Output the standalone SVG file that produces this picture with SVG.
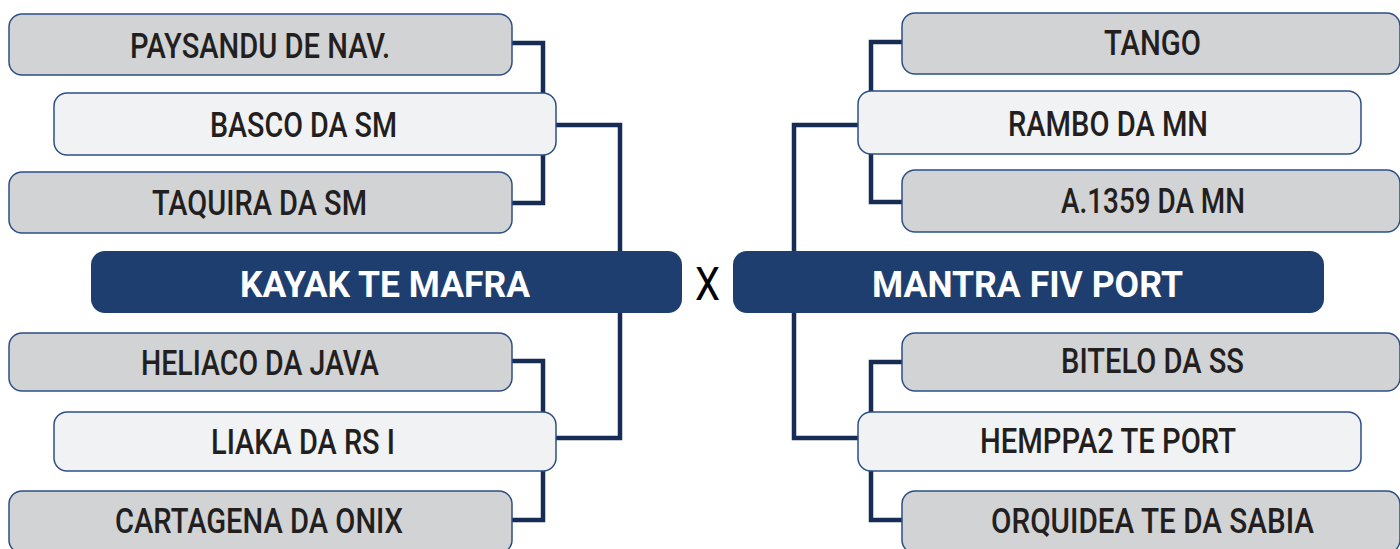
<svg xmlns="http://www.w3.org/2000/svg" width="1400" height="549" viewBox="0 0 1400 549">
<style>
.bg{fill:#ffffff}
.grey{fill:#d1d3d4;stroke:#2c4f86;stroke-width:1.5}
.light{fill:#f1f2f4;stroke:#2c4f86;stroke-width:1.5}
.head{fill:#1f3e70}
.conn{fill:none;stroke:#172c55;stroke-width:4.5;stroke-linejoin:miter}
.lbl{font-family:Roboto,"Liberation Sans",sans-serif;font-weight:500;font-size:35px;fill:#231f20}
.hl{font-family:Roboto,"Liberation Sans",sans-serif;font-weight:700;font-size:37px;fill:#ffffff}
.vs{font-family:Roboto,"Liberation Sans",sans-serif;font-weight:400;font-size:46px;fill:#000000}
</style>
<rect class="bg" x="0" y="0" width="1400" height="549"/>
<g id="connectors">
<path class="conn" d="M512,43 H543 V203 H512"/>
<path class="conn" d="M512,361 H543 V520 H512"/>
<path class="conn" d="M556,125 H620 V438 H556"/>
<path class="conn" d="M902,42 H871 V202 H902"/>
<path class="conn" d="M902,362 H871 V520 H902"/>
<path class="conn" d="M858,125 H794 V438 H858"/>
</g>
<g id="paysandu"><rect class="grey" x="9" y="14" width="503" height="61" rx="13"/><text class="lbl" x="130" y="58" textLength="260" lengthAdjust="spacingAndGlyphs">PAYSANDU DE NAV.</text></g>
<g id="basco"><rect class="light" x="54" y="93" width="502" height="62" rx="13"/><text class="lbl" x="210" y="137" textLength="187" lengthAdjust="spacingAndGlyphs">BASCO DA SM</text></g>
<g id="taquira"><rect class="grey" x="9" y="172" width="503" height="61" rx="13"/><text class="lbl" x="152" y="215" textLength="215" lengthAdjust="spacingAndGlyphs">TAQUIRA DA SM</text></g>
<g id="kayak"><rect class="head" x="91" y="251" width="591" height="62" rx="14"/><text class="hl" x="240" y="297" textLength="290" lengthAdjust="spacingAndGlyphs">KAYAK TE MAFRA</text></g>
<g id="heliaco"><rect class="grey" x="9" y="333" width="503" height="58" rx="13"/><text class="lbl" x="141" y="375" textLength="238" lengthAdjust="spacingAndGlyphs">HELIACO DA JAVA</text></g>
<g id="liaka"><rect class="light" x="54" y="412" width="502" height="59" rx="13"/><text class="lbl" x="211" y="454" textLength="184" lengthAdjust="spacingAndGlyphs">LIAKA DA RS I</text></g>
<g id="cartagena"><rect class="grey" x="9" y="491" width="503" height="62" rx="13"/><text class="lbl" x="115" y="533" textLength="288" lengthAdjust="spacingAndGlyphs">CARTAGENA DA ONIX</text></g>
<g id="versus"><text class="vs" x="695" y="300" textLength="25" lengthAdjust="spacingAndGlyphs">X</text></g>
<g id="tango"><rect class="grey" x="902" y="13" width="498" height="61" rx="13"/><text class="lbl" x="1104" y="55" textLength="97" lengthAdjust="spacingAndGlyphs">TANGO</text></g>
<g id="rambo"><rect class="light" x="858" y="91" width="503" height="63" rx="13"/><text class="lbl" x="1008" y="136" textLength="200" lengthAdjust="spacingAndGlyphs">RAMBO DA MN</text></g>
<g id="a1359"><rect class="grey" x="902" y="170" width="498" height="62" rx="13"/><text class="lbl" x="1061" y="213" textLength="184" lengthAdjust="spacingAndGlyphs">A.1359 DA MN</text></g>
<g id="mantra"><rect class="head" x="733" y="251" width="591" height="62" rx="14"/><text class="hl" x="872" y="297" textLength="311" lengthAdjust="spacingAndGlyphs">MANTRA FIV PORT</text></g>
<g id="bitelo"><rect class="grey" x="902" y="333" width="498" height="58" rx="13"/><text class="lbl" x="1061" y="373" textLength="183" lengthAdjust="spacingAndGlyphs">BITELO DA SS</text></g>
<g id="hemppa2"><rect class="light" x="858" y="412" width="503" height="59" rx="13"/><text class="lbl" x="980" y="453" textLength="256" lengthAdjust="spacingAndGlyphs">HEMPPA2 TE PORT</text></g>
<g id="orquidea"><rect class="grey" x="902" y="491" width="498" height="62" rx="13"/><text class="lbl" x="991" y="533" textLength="323" lengthAdjust="spacingAndGlyphs">ORQUIDEA TE DA SABIA</text></g>
</svg>
